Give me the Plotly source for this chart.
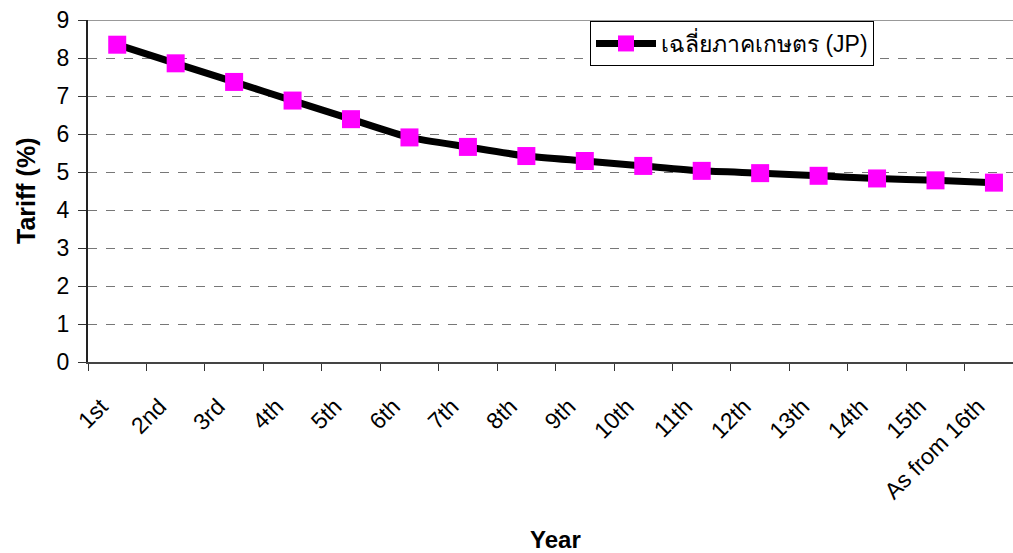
import plotly.graph_objects as go

years = ["1st", "2nd", "3rd", "4th", "5th", "6th", "7th", "8th", "9th", "10th",
         "11th", "12th", "13th", "14th", "15th", "As from 16th"]
tariff = [8.35, 7.86, 7.37, 6.88, 6.39, 5.91, 5.66, 5.42, 5.29, 5.16,
          5.03, 4.97, 4.90, 4.83, 4.78, 4.72]
series_name = "เฉลี่ยภาคเกษตร (JP)"
y_ticks = list(range(0, 10))

FONT = "Liberation Sans, Arial, sans-serif"

fig = go.Figure()
fig.add_trace(go.Scatter(
    x=years, y=tariff, name=series_name, mode="lines+markers",
    line=dict(color="black", width=7, shape="spline", smoothing=0.6),
    marker=dict(symbol="square", size=18, color="#ff00ff",
                line=dict(color="#ff00ff", width=0)),
    cliponaxis=False,
))

fig.add_shape(type="line", xref="paper", yref="y", x0=0, x1=1, y0=9, y1=9,
              line=dict(color="#999999", width=2))

# plot area: x 88..1013, y 20..362 (page px)
fig.add_annotation(text="<b>Year</b>", xref="paper", yref="paper",
                   x=(555 - 88) / 925, y=(362 - 539) / 342,
                   xanchor="center", yanchor="middle",
                   showarrow=False, font=dict(size=24))
fig.add_annotation(text="<b>Tariff (%)</b>", xref="paper", yref="paper",
                   x=(26 - 88) / 925, y=(362 - 191) / 342,
                   xanchor="center", yanchor="middle",
                   textangle=-90, showarrow=False, font=dict(size=25))

fig.update_layout(
    width=1013, height=553,
    margin=dict(l=88, r=0, t=20, b=191, autoexpand=False),
    paper_bgcolor="white", plot_bgcolor="white",
    font=dict(family=FONT, size=22, color="black"),
    showlegend=True,
    legend=dict(x=(590 - 88) / 925, y=(362 - 21) / 342,
                xanchor="left", yanchor="top",
                bordercolor="black", borderwidth=1, bgcolor="white",
                font=dict(size=23), itemwidth=60, tracegroupgap=0),
    xaxis=dict(
        type="category", range=[-0.5, 15.326], tickangle=-45,
        ticks="outside", ticklen=7, tickcolor="#333", tickson="boundaries",
        showline=True, linecolor="#444", linewidth=2, showgrid=False,
        automargin=False, tickfont=dict(size=23),
        ticklabelshift=-16, ticklabelstandoff=20,
    ),
    yaxis=dict(
        range=[0, 9], tickvals=y_ticks, ticks="outside", ticklen=8,
        tickcolor="#333", showline=True, linecolor="#222", linewidth=2,
        showgrid=True, gridcolor="#777", griddash="dash", gridwidth=1,
        zeroline=False, automargin=False, tickfont=dict(size=23),
        ticklabelstandoff=4,
    ),
)

fig.write_html("out.html", config={"displayModeBar": False},
               post_script="document.body.style.margin='0';document.body.style.overflow='hidden';")
